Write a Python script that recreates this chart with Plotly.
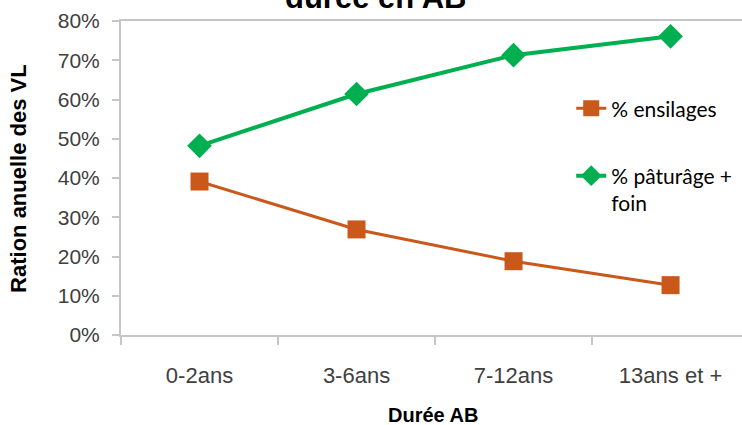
import plotly.graph_objects as go

categories = ["0-2ans", "3-6ans", "7-12ans", "13ans et +"]
ensilages = [0.391, 0.269, 0.188, 0.127]
paturage_foin = [0.482, 0.614, 0.713, 0.761]
series_names = ["% ensilages", "% pâturâge +<br>foin"]

ORANGE = "#C9581A"
GREEN = "#00B050"
AXIS_GRAY = "#C6C6C6"
TEXT_GRAY = "#404040"

fig = go.Figure()
fig.add_trace(go.Scatter(
    x=categories, y=ensilages, name=series_names[0], mode="lines+markers",
    line=dict(color=ORANGE, width=3),
    marker=dict(symbol="square", size=18, color=ORANGE),
    legendgroup="a",
))
fig.add_trace(go.Scatter(
    x=categories, y=paturage_foin, name=series_names[1], mode="lines+markers",
    line=dict(color=GREEN, width=4),
    marker=dict(symbol="diamond", size=19, color=GREEN),
    legendgroup="b",
))

fig.update_layout(
    width=742, height=425,
    margin=dict(l=121, r=0, t=21, b=90, autoexpand=False),
    paper_bgcolor="white", plot_bgcolor="white",
    font=dict(family="Liberation Sans, Arial, sans-serif", color=TEXT_GRAY),
    showlegend=True,
    legend=dict(
        x=0.725, y=0.786, xanchor="left", yanchor="top",
        bgcolor="rgba(0,0,0,0)",
        font=dict(family="Lato, Carlito, sans-serif", size=21, color="black"),
        tracegroupgap=37, valign="top", traceorder="grouped",
    ),
    xaxis=dict(
        type="category", range=[-0.5, 3.455],
        showline=True, linecolor=AXIS_GRAY, linewidth=2, mirror=True,
        ticks="outside", ticklen=8, tickcolor=AXIS_GRAY, tickwidth=2,
        tickson="boundaries", showgrid=False, zeroline=False,
        tickfont=dict(size=22, color=TEXT_GRAY),
        ticklabelstandoff=20,
    ),
    yaxis=dict(
        range=[0, 0.8], dtick=0.1, tickformat=".0%",
        showline=True, linecolor=AXIS_GRAY, linewidth=2,
        ticks="outside", ticklen=7, tickcolor=AXIS_GRAY, tickwidth=2,
        showgrid=False, zeroline=False,
        tickfont=dict(size=21, color=TEXT_GRAY),
        ticklabelstandoff=8,
    ),
    annotations=[
        dict(text="<b>durée en AB</b>", x=0.41, y=1.014, xref="paper", yref="paper",
             xanchor="center", yanchor="bottom", showarrow=False,
             font=dict(size=31, color="black", family="Liberation Sans, Arial, sans-serif")),
        dict(text="<b>Durée AB</b>", x=0.502, y=-0.255, xref="paper", yref="paper",
             xanchor="center", yanchor="middle", showarrow=False,
             font=dict(size=20, color="black")),
        dict(text="<b>Ration anuelle des VL</b>", x=-0.166, y=0.5, xref="paper", yref="paper",
             xanchor="center", yanchor="middle", showarrow=False, textangle=-90,
             font=dict(size=22, color="black")),
    ],
)

fig.write_html(
    "out.html",
    config={"displayModeBar": False},
    post_script="document.body.style.margin='0';document.body.style.padding='0';",
)
